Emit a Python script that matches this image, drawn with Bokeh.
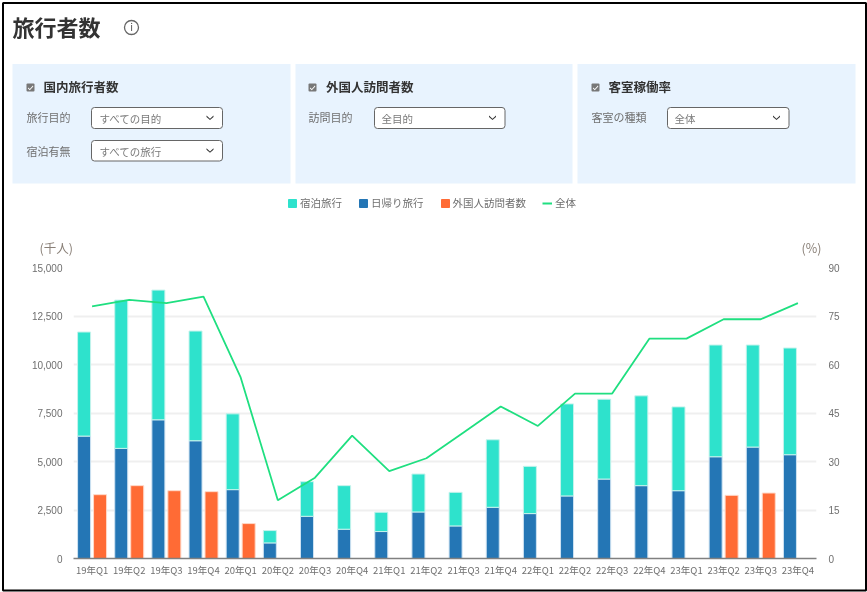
import math
from bokeh.embed import file_html
from bokeh.resources import INLINE
from bokeh.plotting import figure
from bokeh.models import (ColumnDataSource, FactorRange, Range1d, LinearAxis, FixedTicker,
                          NumeralTickFormatter, Label, BoxAnnotation, PolyAnnotation, Legend, LegendItem)
from bokeh.transform import dodge

quarters = ["19年Q1","19年Q2","19年Q3","19年Q4","20年Q1","20年Q2","20年Q3","20年Q4","21年Q1","21年Q2",
            "21年Q3","21年Q4","22年Q1","22年Q2","22年Q3","22年Q4","23年Q1","23年Q2","23年Q3","23年Q4"]
day_trips = [6310,5675,7150,6070,3550,805,2175,1510,1390,2400,1680,2640,2315,3225,4095,3755,3495,5245,5745,5350]
overnight = [5365,7645,6685,5655,3905,635,1785,2245,995,1955,1730,3480,2435,4745,4115,4630,4320,5760,5260,5500]
foreign = [3290,3755,3495,3445,1800,None,None,None,None,None,None,None,None,None,None,None,None,3255,3375,None]
occupancy = [78,80,79,81,56,18,25,38,27,31,39,47,41,51,51,68,68,74,74,79]
left_ticks = [0,2500,5000,7500,10000,12500,15000]
right_ticks = [0,15,30,45,60,75,90]

FONT = "Noto Sans CJK JP"
TEAL, BLUE, ORANGE, GREEN = "#2EE2CC", "#2476B5", "#FF6B35", "#1FDF80"
TXT = "#6f6f6f"

src = ColumnDataSource(dict(q=quarters, day=day_trips, night=overnight,
                            night_top=[d + n for d, n in zip(day_trips, overnight)],
                            foreign=[math.nan if v is None else v for v in foreign], occ=occupancy))

# page furniture: a full-canvas figure behind the chart
bg = figure(width=867, height=592, output_backend="svg", toolbar_location=None,
            x_range=Range1d(0, 867), y_range=Range1d(592, 0), x_axis_location=None, y_axis_location=None,
            min_border=0, outline_line_color=None, background_fill_color="white", border_fill_color="white",
            styles={"position": "fixed", "left": "0px", "top": "0px"})
bg.grid.visible = False

def canvas_box(l, r, t, b, fill, line=None, radius=0, lw=1):
    bg.add_layout(BoxAnnotation(left=l, right=r, top=t, bottom=b, left_units="canvas", right_units="canvas",
                                top_units="canvas", bottom_units="canvas", fill_color=fill, fill_alpha=1,
                                line_color=line, line_alpha=1 if line else 0, line_width=lw,
                                border_radius=radius, level="underlay"))

def canvas_text(x, y, s, size, color=TXT, style="normal", align="left"):
    bg.add_layout(Label(x=x, y=y, x_units="canvas", y_units="canvas", text=s, text_font=FONT,
                        text_font_size=size, text_color=color, text_font_style=style,
                        text_align=align, text_baseline="middle"))

def canvas_poly(pts, color):
    bg.add_layout(PolyAnnotation(xs=[a for a, _ in pts], ys=[b for _, b in pts], xs_units="canvas", ys_units="canvas",
                                 fill_color=color, fill_alpha=1, line_color=color, line_alpha=0.0))

def chevron(cx, cy):
    canvas_poly([(cx-3.5, cy-2), (cx, cy+1.2), (cx+3.5, cy-2), (cx+3.5, cy-0.6), (cx, cy+2.6), (cx-3.5, cy-0.6)], "#333333")

def check(l, t):
    canvas_box(l, l+8, t, t+8, "#777777", radius=1)
    canvas_poly([(l+1.6, t+4), (l+3.3, t+5.4), (l+6.4, t+2), (l+6.8, t+3), (l+3.3, t+6.8), (l+1.4, t+5)], "#ffffff")

def select(l, r, t, b, s, tx, ty):
    canvas_box(l, r, t, b, "#ffffff", line="#666666", radius=3)
    canvas_text(tx, ty, s, "10.5px", "#7a7a7a")
    chevron(r-12.5, (t+b)/2-0.5)

canvas_box(2.5, 865.5, 2.5, 590, "#ffffff", line="#000000", lw=2)

canvas_text(12, 25.5, "旅行者数", "22px", "#333333", "bold")
canvas_box(124, 138, 20, 34, "#ffffff", line="#666666", radius=7, lw=1.3)
canvas_text(131, 26, "i", "10px", "#555555", "normal", "center")

for l, r in [(12, 290), (295, 572), (577, 855)]:
    canvas_box(l, r, 63.5, 183, "#E8F3FE")
for cb, tx, s in [(26, 43, "国内旅行者数"), (308, 325.5, "外国人訪問者数"), (591, 608, "客室稼働率")]:
    check(cb, 83)
    canvas_text(tx, 85.5, s, "12.5px", "#333333", "bold")
canvas_text(26, 116.5, "旅行目的", "11px")
canvas_text(26, 150, "宿泊有無", "11px")
canvas_text(308, 116.5, "訪問目的", "11px")
canvas_text(591, 116.5, "客室の種類", "11px")
select(91, 222, 107, 128, "すべての目的", 99, 117.5)
select(91, 222, 140, 160.5, "すべての旅行", 99, 150.5)
select(374, 504.5, 107, 128, "全目的", 381, 117.5)
select(667, 788.5, 107, 128, "全体", 674, 117.5)

canvas_text(39, 247, "(千人)", "12.5px", "#8a8078")
canvas_text(801, 247, "(%)", "12.5px", "#8a8078")

# legend lives in the full-canvas figure; its keys use the chart's colours and have no visible mark
nan = [math.nan]
k_night = bg.quad(left=nan, right=nan, top=nan, bottom=nan, fill_color=TEAL, line_color=TEAL)
k_day = bg.quad(left=nan, right=nan, top=nan, bottom=nan, fill_color=BLUE, line_color=BLUE)
k_foreign = bg.quad(left=nan, right=nan, top=nan, bottom=nan, fill_color=ORANGE, line_color=ORANGE)
k_occ = bg.line(x=nan * 2, y=nan * 2, line_color=GREEN, line_width=2)
legend = Legend(items=[LegendItem(label="宿泊旅行", renderers=[k_night]),
                       LegendItem(label="日帰り旅行", renderers=[k_day]),
                       LegendItem(label="外国人訪問者数", renderers=[k_foreign]),
                       LegendItem(label="全体", renderers=[k_occ])],
                orientation="horizontal", location=(287, 382), spacing=16, margin=0, padding=0,
                glyph_width=10, glyph_height=10, label_standoff=3, label_height=10,
                label_text_font=FONT, label_text_font_size="10.5px", label_text_color=TXT,
                background_fill_alpha=0, border_line_color=None)
bg.add_layout(legend, "center")

# chart, transparent, on top of the page furniture
p = figure(width=867, height=592, output_backend="svg", toolbar_location=None,
           x_range=FactorRange(factors=quarters, range_padding=0, factor_padding=0),
           y_range=Range1d(0, 15000),
           min_border_left=73, min_border_right=51, min_border_top=267, min_border_bottom=34,
           outline_line_color=None, background_fill_alpha=0, border_fill_alpha=0,
           styles={"position": "fixed", "left": "0px", "top": "0px"})
p.extra_y_ranges = {"pct": Range1d(0, 90)}

bw = 0.35
r_day = p.vbar(x=dodge("q", -0.215, range=p.x_range), bottom=0, top="day", width=bw, source=src,
               fill_color=BLUE, line_color="#cfe3f2", line_width=1)
r_night = p.vbar(x=dodge("q", -0.215, range=p.x_range), bottom="day", top="night_top", width=bw, source=src,
                 fill_color=TEAL, line_color="#c5f3ec", line_width=1)
r_foreign = p.vbar(x=dodge("q", 0.215, range=p.x_range), bottom=0, top="foreign", width=bw, source=src,
                   fill_color=ORANGE, line_color="#ffd9c9", line_width=1)
r_occ = p.line(x="q", y="occ", y_range_name="pct", source=src, line_color=GREEN, line_width=1.8)

p.xgrid.grid_line_color = None
p.ygrid.grid_line_color = "#efefef"
p.ygrid.grid_line_width = 2
p.ygrid.ticker = FixedTicker(ticks=left_ticks)

xa = p.xaxis[0]
xa.axis_line_color = "#808080"
xa.axis_line_width = 1.5
xa.major_tick_line_color = None
xa.minor_tick_line_color = None
xa.major_tick_out = 0
xa.major_label_text_font = FONT
xa.major_label_text_font_size = "9.5px"
xa.major_label_text_color = TXT
xa.major_label_standoff = 4

ya = p.yaxis[0]
ya.ticker = FixedTicker(ticks=left_ticks)
ya.formatter = NumeralTickFormatter(format="0,0")
ya.axis_line_color = None
ya.major_tick_line_color = None
ya.minor_tick_line_color = None
ya.major_tick_out = 0
ya.major_label_text_font = "Liberation Sans"
ya.major_label_text_font_size = "10px"
ya.major_label_text_color = TXT
ya.major_label_standoff = 11

ra = LinearAxis(y_range_name="pct", ticker=FixedTicker(ticks=right_ticks))
ra.axis_line_color = None
ra.major_tick_line_color = None
ra.minor_tick_line_color = None
ra.major_tick_out = 0
ra.major_label_text_font = "Liberation Sans"
ra.major_label_text_font_size = "10px"
ra.major_label_text_color = TXT
ra.major_label_standoff = 12
p.add_layout(ra, "right")

open("out.html", "w").write(file_html([bg, p], INLINE))
